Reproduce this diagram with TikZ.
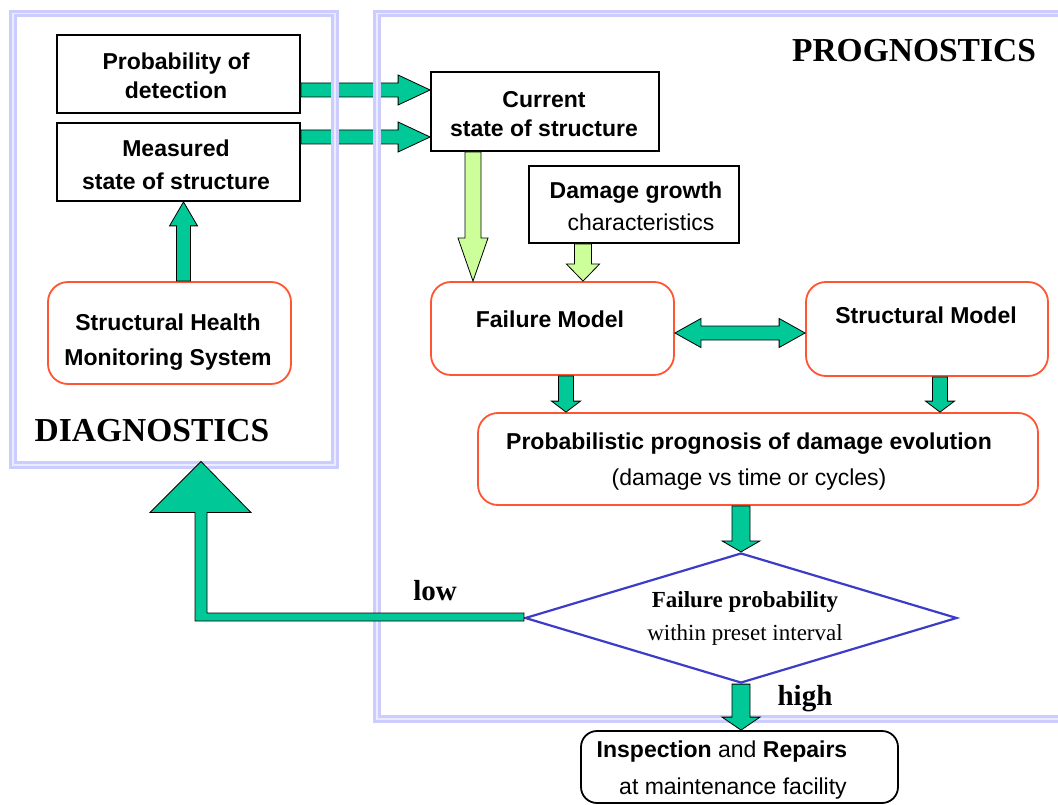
\documentclass[tikz,border=0pt]{standalone}
\usepackage{fontspec}
\setmainfont{Liberation Serif}
\newfontfamily\arialfont{Liberation Sans}
\usetikzlibrary{calc,shapes.geometric}
\definecolor{lav}{RGB}{204,204,255}
\definecolor{lavlight}{RGB}{236,236,255}
\definecolor{gr}{RGB}{0,200,150}
\definecolor{lgr}{RGB}{204,255,153}
\definecolor{redl}{RGB}{255,85,50}
\definecolor{dblue}{RGB}{60,60,200}
\newcommand\blockarrow[6]{%
  \coordinate (ba-h) at ($(#2)!#5!(#1)$);
  \draw[#6] ($(#1)!#3!90:(#2)$) -- ($(ba-h)!#3!-90:(#1)$) -- ($(ba-h)!#4!-90:(#1)$) -- (#2)
    -- ($(ba-h)!#4!90:(#1)$) -- ($(ba-h)!#3!90:(#1)$) -- ($(#1)!#3!-90:(#2)$) -- cycle;}
\newcommand\dblarrow[6]{%
  \coordinate (da-1) at ($(#1)!#5!(#2)$);
  \coordinate (da-2) at ($(#2)!#5!(#1)$);
  \draw[#6] (#1) -- ($(da-1)!#4!90:(#2)$) -- ($(da-1)!#3!90:(#2)$) -- ($(da-2)!#3!-90:(#1)$)
    -- ($(da-2)!#4!-90:(#1)$) -- (#2) -- ($(da-2)!#4!90:(#1)$) -- ($(da-2)!#3!90:(#1)$)
    -- ($(da-1)!#3!-90:(#2)$) -- ($(da-1)!#4!-90:(#2)$) -- cycle;}
\tikzset{
  frame/.style={draw=lav, line width=3pt, double=lavlight, double distance=1.5pt, inner sep=0pt},
  box/.style={draw=black, line width=1.8pt, fill=white, inner sep=0pt, align=center,
    font=\arialfont\bfseries\fontsize{23}{29}\selectfont},
  rbox/.style={draw=redl, line width=1.8pt, rounded corners=20pt, fill=white, inner sep=0pt},
  kbox/.style={draw=black, line width=1.8pt, rounded corners=16pt, fill=white, inner sep=0pt},
  txt/.style={inner sep=0pt, align=center, font=\arialfont\fontsize{23}{29}\selectfont},
  title/.style={inner sep=0pt, font=\bfseries\fontsize{33.5}{36}\selectfont},
  lbl/.style={inner sep=0pt, font=\bfseries\fontsize{29}{32}\selectfont},
  garrow/.style={fill=gr, draw=black, line width=0.8pt, line join=miter},
  larrow/.style={fill=lgr, draw=black, line width=0.8pt, line join=miter},
}
\begin{document}
\begin{tikzpicture}[x=1pt,y=-1pt]
\useasboundingbox (0,0) rectangle (1058,805);
\clip (0,0) rectangle (1058,805);
% boxes
\node[box, minimum width=243pt, minimum height=78pt] (pod) at (178.5,74) {};
\node[txt, font=\arialfont\bfseries\fontsize{23}{29}\selectfont] (podt) at (176,76) {Probability of\\detection};
\node[box, minimum width=243pt, minimum height=78pt] (meas) at (178.5,162) {};
\node[txt, font=\arialfont\bfseries\fontsize{23}{33}\selectfont] (meast) at (176,165) {Measured\\state of structure};
\node[box, minimum width=228pt, minimum height=79pt] (cur) at (545,111.5) {};
\node[txt, font=\arialfont\bfseries\fontsize{23}{29}\selectfont] (curt) at (544,114) {Current\\state of structure};
\node[box, minimum width=210pt, minimum height=77pt] (dmg) at (634,204.5) {};
\node[txt, font=\arialfont\fontsize{23}{32}\selectfont] (dmgt) at (636,206.5) {\textbf{Damage growth}\\\hspace*{10pt}characteristics};
% top arrows (under frames)
\coordinate (a1s) at (pod.east |- 0,90);
\coordinate (a1e) at (cur.west |- 0,90);
\coordinate (a2s) at (meas.east |- 0,137);
\coordinate (a2e) at (cur.west |- 0,137);
\blockarrow{a1s}{a1e}{7pt}{15pt}{32pt}{garrow}
\blockarrow{a2s}{a2e}{7pt}{15pt}{32pt}{garrow}
% frames
\node[frame, minimum width=322pt, minimum height=451.5pt] (diag) at (174,239.25) {};
\node[frame, minimum width=693pt, minimum height=705.5pt] (progf) at (723.5,366.25) {};
\node[title] (diagt) at (152,431) {DIAGNOSTICS};
\node[title] (progt) at (914,51) {PROGNOSTICS};
% model boxes
\node[rbox, minimum width=243pt, minimum height=102pt] (shm) at (169.5,333) {};
\node[txt, font=\arialfont\bfseries\fontsize{23}{35}\selectfont] (shmt) at (168,342) {Structural Health\\Monitoring System};
\node[rbox, minimum width=243pt, minimum height=93pt] (fail) at (552.5,328.5) {};
\node[txt, font=\arialfont\bfseries\fontsize{23}{29}\selectfont] (failt) at (550,319) {Failure Model};
\node[rbox, minimum width=242pt, minimum height=94pt] (struct) at (927,329) {};
\node[txt, font=\arialfont\bfseries\fontsize{23}{29}\selectfont] (structt) at (926,315) {Structural Model};
\node[rbox, minimum width=560pt, minimum height=92pt] (prog) at (758,459) {};
\node[txt, font=\arialfont\fontsize{23}{36}\selectfont] (progt2) at (749,462) {\textbf{Probabilistic prognosis of damage evolution}\\(damage vs time or cycles)};
\node[diamond, draw=dblue, line width=2.2pt, minimum width=432pt, minimum height=130pt, inner sep=0pt, fill=white] (dia) at (741,618) {};
\node[inner sep=0pt, align=center, font=\fontsize{23}{33}\selectfont] (diat) at (745,618) {\textbf{Failure probability}\\within preset interval};
\node[kbox, minimum width=317pt, minimum height=72pt] (insp) at (739.5,767) {};
\node[txt, font=\arialfont\fontsize{23}{37}\selectfont] (inspt) at (722,770) {\textbf{Inspection} and \textbf{Repairs}\\\hspace*{22pt}at maintenance facility};
% arrows
\coordinate (a3s) at (shm.north -| 183.5,0);
\coordinate (a3e) at (meas.south -| 183.5,0);
\blockarrow{a3s}{a3e}{7pt}{14pt}{24pt}{garrow}
\coordinate (a4s) at (cur.south -| 473,0);
\coordinate (a4e) at (fail.north -| 473,0);
\blockarrow{a4s}{a4e}{8pt}{15pt}{43pt}{larrow}
\coordinate (a5s) at (dmg.south -| 583,0);
\coordinate (a5e) at (fail.north -| 583,0);
\blockarrow{a5s}{a5e}{8.5pt}{16.5pt}{17pt}{larrow}
\coordinate (a6s) at (fail.east |- 0,333);
\coordinate (a6e) at (struct.west |- 0,333);
\dblarrow{a6s}{a6e}{7pt}{14.5pt}{26pt}{garrow}
\coordinate (a7s) at (fail.south -| 566,0);
\coordinate (a7e) at (prog.north -| 566,0);
\blockarrow{a7s}{a7e}{7.5pt}{14.5pt}{11pt}{garrow}
\coordinate (a8s) at (struct.south -| 940,0);
\coordinate (a8e) at (prog.north -| 940,0);
\blockarrow{a8s}{a8e}{7.5pt}{14.5pt}{11pt}{garrow}
\coordinate (a9s) at (prog.south -| dia.north);
\blockarrow{a9s}{dia.north}{9pt}{19pt}{11pt}{garrow}
\coordinate (a10e) at (insp.north -| dia.south);
\blockarrow{dia.south}{a10e}{9pt}{19pt}{13pt}{garrow}
% low feedback arrow
\coordinate (lowtip) at ($(diag.south -| 201,0)+(0,-5)$);
\draw[garrow] ($(dia.west)+(0,-5)$) -- ($(lowtip |- dia.west)+(6,-5)$) -- ($(lowtip)+(6,51)$)
  -- ($(lowtip)+(50,51)$) -- (lowtip) -- ($(lowtip)+(-51,51)$) -- ($(lowtip)+(-6,51)$)
  -- ($(lowtip |- dia.west)+(-6,3)$) -- ($(dia.west)+(0,3)$) -- cycle;
\node[lbl] (low) at (435,591) {low};
\node[lbl] (high) at (805,699) {high};
\end{tikzpicture}
\end{document}
